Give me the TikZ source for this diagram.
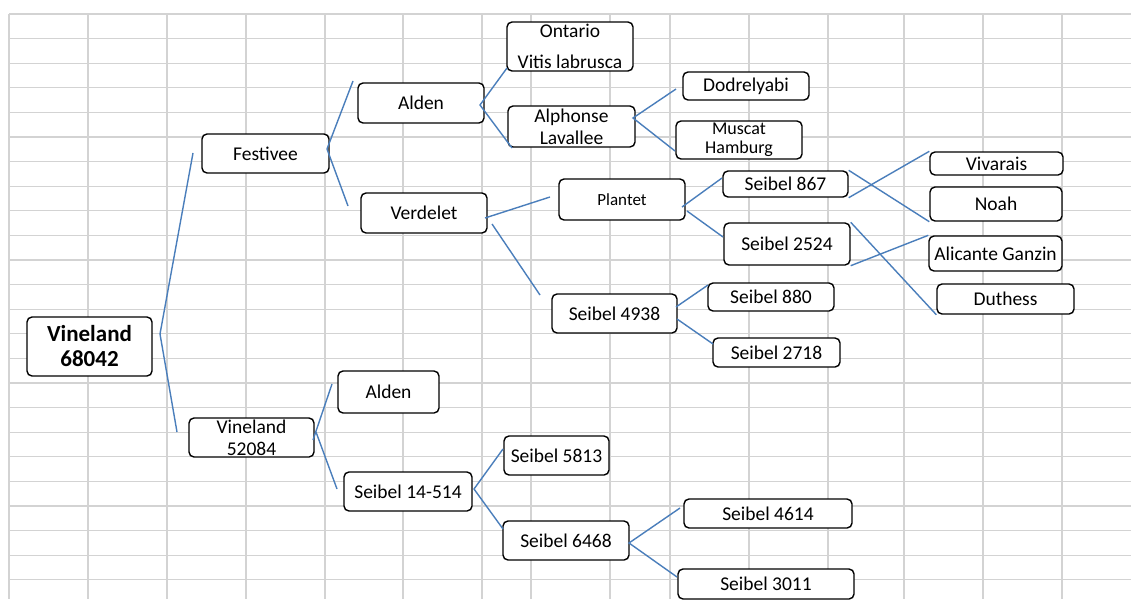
\documentclass[tikz,border=0pt]{standalone}
\usepackage{fontspec}
\setmainfont{Carlito}
\usetikzlibrary{calc}
\definecolor{gridgray}{RGB}{211,211,211}
\definecolor{linkblue}{RGB}{74,126,187}
\tikzset{
  cell/.style={draw=black, fill=white, rounded corners=5pt, line width=1.4pt,
    inner sep=0pt, align=center, font=\fontsize{19.5}{22}\selectfont},
  sized/.style 2 args={minimum width=#1, minimum height=#2},
  link/.style={draw=linkblue, line width=1.4pt},
  gridline/.style={draw=gridgray, line width=1.2pt}
}

\begin{document}
\begin{tikzpicture}[x=1pt, y=-1pt]
  \useasboundingbox (0,0) rectangle (1131,599);
  \fill[white] (0,0) rectangle (1131,599);
  \foreach \x in {9,88,167,246,325,403,482,531,610,670,749,828,904,983,1062}
    \draw[gridline] (\x,14) -- (\x,599);
  \foreach \k in {0,...,23}
    \draw[gridline] (9,14+24.6*\k) -- (1131,14+24.6*\k);

  \node [cell, sized={125}{59}, font=\bfseries\fontsize{23}{25}\selectfont] (v68042) at (89.5,346.5) {Vineland\\68042};
  \node [cell, sized={127}{39}] (festivee) at (265.5,153.5) {Festivee};
  \node [cell, sized={125}{39}] (v52084) at (251.5,437.5) {Vineland\\52084};
  \node [cell, sized={126}{40}] (alden) at (421,103) {Alden};
  \node [cell, sized={126}{40}] (verdelet) at (424,213) {Verdelet};
  \node [cell, sized={126}{49}] (ontario) at (570,46.5) {Ontario\\[9pt]Vitis labrusca};
  \node [cell, sized={127}{41}] (alphonse) at (571.5,126.5) {Alphonse\\Lavallee};
  \node [cell, sized={126}{28}] (dodrelyabi) at (746,86) {Dodrelyabi};
  \node [cell, sized={126}{38}, font=\fontsize{18}{19}\selectfont] (muscat) at (739,140) {Muscat\\Hamburg};
  \node [cell, sized={126}{41}, font=\fontsize{17}{20}\selectfont] (plantet) at (622,199.5) {Plantet};
  \node [cell, sized={125}{26}] (s867) at (785.5,184) {Seibel 867};
  \node [cell, sized={126}{42}] (s2524) at (787,244) {Seibel 2524};
  \node [cell, sized={133}{23}] (vivarais) at (996.5,163.5) {Vivarais};
  \node [cell, sized={132}{34}] (noah) at (996,204) {Noah};
  \node [cell, sized={133}{35}] (alicante) at (995.5,253.5) {Alicante Ganzin};
  \node [cell, sized={137}{30}] (duthess) at (1005.5,299) {Duthess};
  \node [cell, sized={125}{39}] (s4938) at (614.5,313.5) {Seibel 4938};
  \node [cell, sized={126}{28}] (s880) at (771,297) {Seibel 880};
  \node [cell, sized={127}{29}] (s2718) at (776.5,352.5) {Seibel 2718};
  \node [cell, sized={101}{42}] (alden2) at (388.5,392) {Alden};
  \node [cell, sized={128}{39}] (s14514) at (408,491.5) {Seibel 14-514};
  \node [cell, sized={105}{39}] (s5813) at (556.5,455.5) {Seibel 5813};
  \node [cell, sized={126}{39}] (s6468) at (566,540.5) {Seibel 6468};
  \node [cell, sized={168}{29}] (s4614) at (768,513.5) {Seibel 4614};
  \node [cell, sized={176}{30}] (s3011) at (766,584) {Seibel 3011};

  \coordinate (v68042j) at (160,334);
  \coordinate (festiveeto) at (193,153);
  \coordinate (v52084to) at (177,432);
  \coordinate (festiveej) at (327,149);
  \coordinate (aldento) at (353,81);
  \coordinate (verdeletto) at (348,206);
  \coordinate (aldenj) at (480,105);
  \coordinate (ontarioto) at (507,68);
  \coordinate (alphonseto) at (512,148);
  \coordinate (alphonsej) at (633,118);
  \coordinate (dodrelyabito) at (676,89);
  \coordinate (muscatto) at (675,151);
  \coordinate (verdeletj) at (485,218);
  \coordinate (verdeletk) at (492,224);
  \coordinate (plantetto) at (550,197);
  \coordinate (s4938to) at (540,295);
  \coordinate (plantetj) at (682,207);
  \coordinate (plantetk) at (687,211);
  \coordinate (s867to) at (722,178);
  \coordinate (s2524to) at (723,237);
  \coordinate (s4938j) at (676,307);
  \coordinate (s4938k) at (677,319);
  \coordinate (s880to) at (708,285);
  \coordinate (s2718to) at (713,344);
  \coordinate (v52084j) at (313,440);
  \coordinate (v52084k) at (316,432);
  \coordinate (alden2to) at (332,384);
  \coordinate (s14514to) at (337,489);
  \coordinate (s14514j) at (474,489);
  \coordinate (s5813to) at (503,449);
  \coordinate (s6468to) at (503,529);
  \coordinate (s6468j) at (629,543);
  \coordinate (s4614to) at (680,508);
  \coordinate (s3011to) at (677,577);

  \draw [link] (festiveeto) -- (v68042j) -- (v52084to);
  \draw [link] (aldento) -- (festiveej) -- (verdeletto);
  \draw [link] (ontarioto) -- (aldenj) -- (alphonseto);
  \draw [link] (dodrelyabito) -- (alphonsej) -- (muscatto);
  \draw [link] (verdeletj) -- (plantetto);
  \draw [link] (verdeletk) -- (s4938to);
  \draw [link] (plantetj) -- (s867to);
  \draw [link] (plantetk) -- (s2524to);
  \draw [link] (s867.south east) -- (vivarais.north west);
  \draw [link] (s867.north east) -- (noah.south west);
  \draw [link] (s2524.south east) -- (alicante.north west);
  \draw [link] (s2524.north east) -- (duthess.south west);
  \draw [link] (s4938j) -- (s880to);
  \draw [link] (s4938k) -- (s2718to);
  \draw [link] (v52084j) -- (alden2to);
  \draw [link] (v52084k) -- (s14514to);
  \draw [link] (s5813to) -- (s14514j) -- (s6468to);
  \draw [link] (s4614to) -- (s6468j) -- (s3011to);
\end{tikzpicture}
\end{document}
